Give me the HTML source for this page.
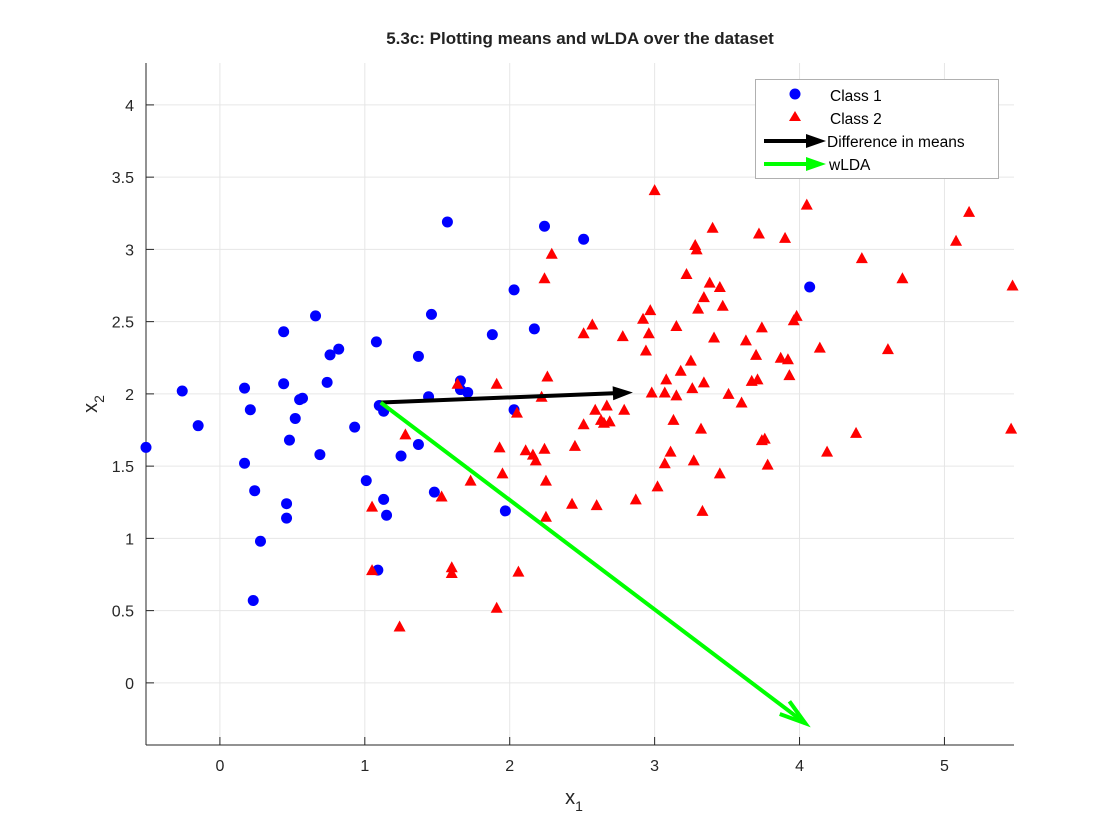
<!DOCTYPE html>
<html><head><meta charset="utf-8">
<style>
body{margin:0;background:#fff;}
svg{display:block;font-family:"Liberation Sans",Helvetica,Arial,sans-serif;}
</style></head>
<body>
<svg id="chart" width="1120" height="840" viewBox="0 0 1120 840" xmlns="http://www.w3.org/2000/svg">
<rect width="1120" height="840" fill="#fff"/>
<g id="grid"></g>
<g id="axes"></g>
<g id="marks"></g>
<text x="580" y="44" text-anchor="middle" font-size="17" font-weight="bold" fill="#222">5.3c: Plotting means and wLDA over the dataset</text>
<text x="574" y="804" text-anchor="middle" font-size="20" fill="#262626">x<tspan font-size="14" dy="7">1</tspan></text>
<text transform="translate(97,404) rotate(-90)" text-anchor="middle" font-size="20" fill="#262626">x<tspan font-size="14" dy="7">2</tspan></text>
<g id="legend">
<rect x="755.5" y="79.5" width="243" height="99" fill="#fff" stroke="#b0b0b0"/>
<circle cx="795" cy="94" r="5.5" fill="#0000ff"/>
<text x="830" y="101" font-size="15.5" fill="#000">Class 1</text>
<polygon points="795,111 801,121 789,121" fill="#ff0000"/>
<text x="830" y="124" font-size="15.5" fill="#000">Class 2</text>
<line x1="764" y1="141" x2="812" y2="141" stroke="#000" stroke-width="4"/>
<polygon points="806,134 826,141 806,148" fill="#000"/>
<text x="827" y="147" font-size="15.5" fill="#000">Difference in means</text>
<line x1="764" y1="164" x2="812" y2="164" stroke="#00ff00" stroke-width="4"/>
<polygon points="806,157 826,164 806,171" fill="#00ff00"/>
<text x="829" y="170" font-size="15.5" fill="#000">wLDA</text>
</g>
</svg>
<script>
const xTicks=[0,1,2,3,4,5];
const yTicks=[0,0.5,1,1.5,2,2.5,3,3.5,4];
const yTickLabels=["0","0.5","1","1.5","2","2.5","3","3.5","4"];
const class1X=[-0.51,-0.26,-0.15,0.17,0.17,0.21,0.24,0.23,0.28,0.44,0.44,0.46,0.46,0.48,0.52,0.55,0.57,0.66,0.69,0.74,0.76,0.82,0.93,1.01,1.08,1.09,1.10,1.13,1.13,1.15,1.25,1.37,1.37,1.44,1.46,1.48,1.57,1.66,1.66,1.71,1.88,1.97,2.03,2.03,2.17,2.24,2.51,4.07];
const class1Y=[1.63,2.02,1.78,2.04,1.52,1.89,1.33,0.57,0.98,2.43,2.07,1.24,1.14,1.68,1.83,1.96,1.97,2.54,1.58,2.08,2.27,2.31,1.77,1.40,2.36,0.78,1.92,1.88,1.27,1.16,1.57,2.26,1.65,1.98,2.55,1.32,3.19,2.09,2.03,2.01,2.41,1.19,2.72,1.89,2.45,3.16,3.07,2.74];
const class2X=[1.05,1.05,1.24,1.28,1.53,1.60,1.60,1.64,1.73,1.91,1.91,1.93,1.95,2.05,2.06,2.11,2.16,2.18,2.24,2.25,2.24,2.29,2.25,2.22,2.26,2.43,2.45,2.51,2.51,2.57,2.59,2.60,2.63,2.65,2.67,2.69,2.78,2.79,2.87,2.92,2.94,2.96,2.97,2.98,3.02,3.00,3.07,3.07,3.08,3.11,3.13,3.15,3.15,3.18,3.22,3.25,3.26,3.27,3.28,3.29,3.30,3.32,3.33,3.34,3.34,3.38,3.40,3.41,3.45,3.45,3.47,3.51,3.60,3.63,3.67,3.70,3.71,3.72,3.74,3.76,3.78,3.74,3.90,3.92,3.87,3.93,3.96,3.98,4.05,4.14,4.19,4.39,4.43,4.61,4.71,5.08,5.17,5.47,5.46];
const class2Y=[1.22,0.78,0.39,1.72,1.29,0.80,0.76,2.07,1.40,0.52,2.07,1.63,1.45,1.87,0.77,1.61,1.58,1.54,1.62,1.40,2.80,2.97,1.15,1.98,2.12,1.24,1.64,1.79,2.42,2.48,1.89,1.23,1.82,1.80,1.92,1.81,2.40,1.89,1.27,2.52,2.30,2.42,2.58,2.01,1.36,3.41,2.01,1.52,2.10,1.60,1.82,2.47,1.99,2.16,2.83,2.23,2.04,1.54,3.03,3.00,2.59,1.76,1.19,2.67,2.08,2.77,3.15,2.39,2.74,1.45,2.61,2.00,1.94,2.37,2.09,2.27,2.10,3.11,1.68,1.69,1.51,2.46,3.08,2.24,2.25,2.13,2.51,2.54,3.31,2.32,1.60,1.73,2.94,2.31,2.80,3.06,3.26,2.75,1.76];
const meanStart=[1.11,1.94];
const diffEnd=[2.85,2.01];
const wldaEnd=[4.04,-0.28];

const L=146,R=1014,T=63,B=745;
const xMin=-0.51,xMax=5.48,yMin=-0.43,yMax=4.29;
const sx=v=>L+(v-xMin)/(xMax-xMin)*(R-L);
const sy=v=>B-(v-yMin)/(yMax-yMin)*(B-T);
const NS="http://www.w3.org/2000/svg";
function mk(tag,attrs,parent){const e=document.createElementNS(NS,tag);for(const k in attrs)e.setAttribute(k,attrs[k]);parent.appendChild(e);return e;}
const grid=document.getElementById('grid'),axes=document.getElementById('axes'),marks=document.getElementById('marks');
mk('rect',{x:L,y:T,width:R-L,height:B-T,fill:'#fff'},grid);
xTicks.forEach((t,i)=>{const x=sx(t);
 const g=mk('line',{x1:x,x2:x,y1:T,y2:B,stroke:'#e6e6e6','stroke-width':1},grid);
 
 
 const tk=mk('line',{x1:x,x2:x,y1:B,y2:B-8,stroke:'#262626','stroke-width':1},axes);
 
 
 const tx=mk('text',{x:x,y:B+26,'text-anchor':'middle','font-size':16,fill:'#262626'},axes);
 tx.textContent=String(t);
 
 
});
yTicks.forEach((t,i)=>{const y=sy(t);
 const g=mk('line',{x1:L,x2:R,y1:y,y2:y,stroke:'#e6e6e6','stroke-width':1},grid);
 
 
 const tk=mk('line',{x1:L,x2:L+8,y1:y,y2:y,stroke:'#262626','stroke-width':1},axes);
 
 
 const tx=mk('text',{x:L-12,y:y+6,'text-anchor':'end','font-size':16,fill:'#262626'},axes);
 tx.textContent=yTickLabels[i];
 
 
});
const xa=mk('line',{x1:L,x2:R,y1:B,y2:B,stroke:'#262626','stroke-width':1},axes);


const ya=mk('line',{x1:L,x2:L,y1:T,y2:B,stroke:'#262626','stroke-width':1},axes);



class1X.forEach((v,i)=>{
 const c=mk('circle',{cx:sx(v),cy:sy(class1Y[i]),r:5.5,fill:'#0000ff'},marks);
 
 
});
class2X.forEach((v,i)=>{const x=sx(v),y=sy(class2Y[i]);
 const p=mk('polygon',{points:`${x},${y-6} ${x+6},${y+5} ${x-6},${y+5}`,fill:'#ff0000'},marks);
 
 
});
function arrow(s,e,color,filled,name){
 const x1=sx(s[0]),y1=sy(s[1]),x2=sx(e[0]),y2=sy(e[1]);
 const ang=Math.atan2(y2-y1,x2-x1),hl=filled?20:26,hw=filled?7:8;
 const bx=x2-hl*Math.cos(ang),by=y2-hl*Math.sin(ang);
 const px=-Math.sin(ang)*hw,py=Math.cos(ang)*hw;
 const ln=mk('line',{x1:x1,y1:y1,x2:filled?bx+4*Math.cos(ang):x2,y2:filled?by+4*Math.sin(ang):y2,stroke:color,'stroke-width':4},marks);
 
 
 let h;
 if(filled){h=mk('polygon',{points:`${x2},${y2} ${bx+px},${by+py} ${bx-px},${by-py}`,fill:color},marks);}
 else{h=mk('polyline',{points:`${bx+px},${by+py} ${x2},${y2} ${bx-px},${by-py}`,fill:'none',stroke:color,'stroke-width':4},marks);}
 
 
}
arrow(meanStart,diffEnd,'#000',true,'diff-arrow');
arrow(meanStart,wldaEnd,'#00ff00',false,'wlda-arrow');
</script>
</body></html>
